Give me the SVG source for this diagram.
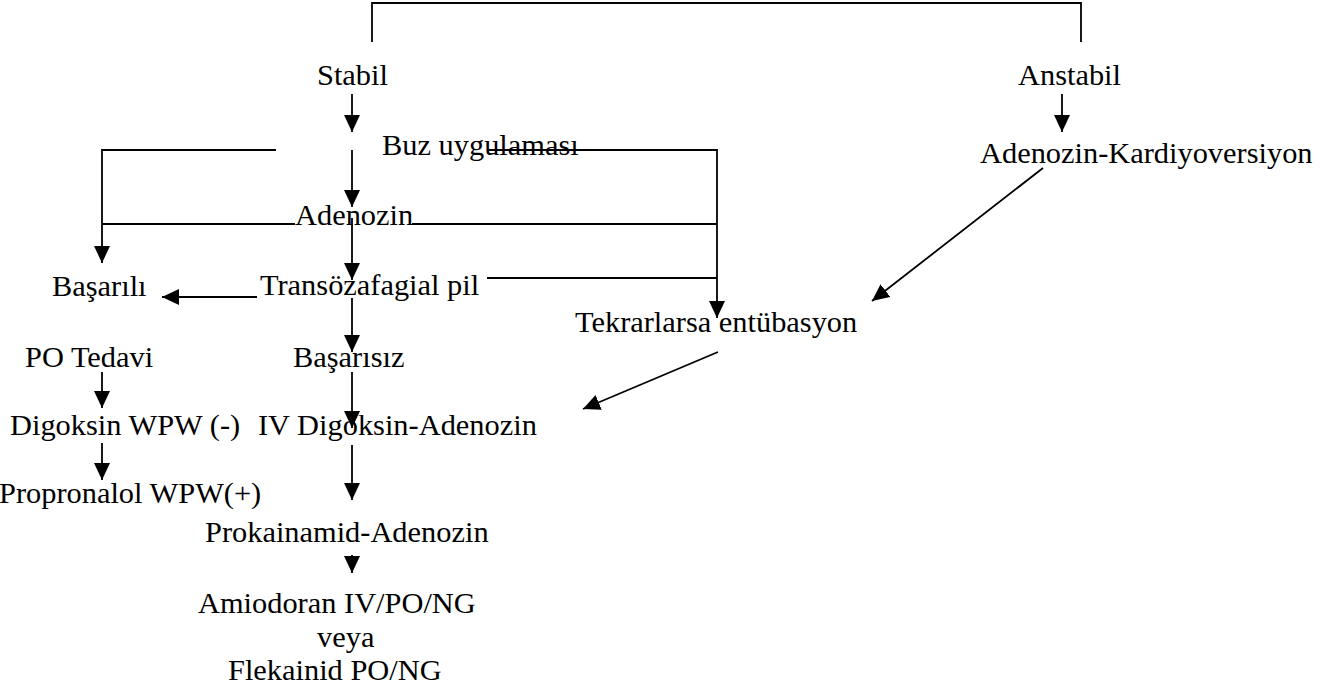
<svg xmlns="http://www.w3.org/2000/svg" width="1325" height="697" viewBox="0 0 1325 697">
<style>
text{font-family:"Liberation Serif","Times New Roman",serif;font-size:30.4px;fill:#000}
.c{fill:none;stroke:#000;stroke-width:1.8}
.a{marker-end:url(#ah)}
</style>
<defs>
<marker id="ah" markerUnits="userSpaceOnUse" markerWidth="17" markerHeight="16" refX="17" refY="8" orient="auto">
<path d="M0,0 L17,8 L0,16 z" fill="#000"/>
</marker>
</defs>
<rect width="1325" height="697" fill="#fff"/>
<g id="connectors">
<polyline class="c" points="372,42 372,3 1081,3 1081,42"/>
<line class="c a" x1="352" y1="94" x2="352" y2="132"/>
<line class="c a" x1="1062" y1="94" x2="1062" y2="132"/>
<polyline class="c a" points="276,150 102,150 102,263"/>
<line class="c a" x1="352" y1="150" x2="352" y2="207"/>
<polyline class="c a" points="488,150 717,150 717,318"/>
<line class="c" x1="102" y1="224" x2="295" y2="224"/>
<line class="c" x1="412" y1="224" x2="717" y2="224"/>
<line class="c a" x1="352" y1="218" x2="352" y2="280"/>
<line class="c" x1="487" y1="278" x2="717" y2="278"/>
<line class="c a" x1="257" y1="297" x2="162" y2="297"/>
<line class="c a" x1="352" y1="298" x2="352" y2="352"/>
<line class="c a" x1="1043" y1="168" x2="872" y2="301"/>
<line class="c a" x1="102" y1="372" x2="102" y2="408"/>
<line class="c a" x1="352" y1="372" x2="352" y2="428"/>
<line class="c a" x1="718" y1="352" x2="583" y2="409"/>
<line class="c a" x1="102" y1="443" x2="102" y2="480"/>
<line class="c a" x1="352" y1="445" x2="352" y2="500"/>
<line class="c a" x1="352" y1="555" x2="352" y2="573"/>
</g>
<g id="stabil"><text x="317" y="85">Stabil</text></g>
<g id="anstabil"><text x="1018" y="85">Anstabil</text></g>
<g id="buz"><text x="382" y="155">Buz uygulaması</text></g>
<g id="adenozin-kardiyoversiyon"><text x="980" y="163">Adenozin-Kardiyoversiyon</text></g>
<g id="adenozin"><text x="295" y="225">Adenozin</text></g>
<g id="basarili"><text x="52" y="296">Başarılı</text></g>
<g id="transozafagial"><text x="260" y="295">Transözafagial pil</text></g>
<g id="tekrarlarsa"><text x="575" y="332">Tekrarlarsa entübasyon</text></g>
<g id="po-tedavi"><text x="25" y="367">PO Tedavi</text></g>
<g id="basarisiz"><text x="293" y="367">Başarısız</text></g>
<g id="digoksin"><text x="10" y="435">Digoksin WPW (-)</text></g>
<g id="iv-digoksin"><text x="258" y="435">IV Digoksin-Adenozin</text></g>
<g id="propronalol"><text x="-1" y="503">Propronalol WPW(+)</text></g>
<g id="prokainamid"><text x="205" y="542">Prokainamid-Adenozin</text></g>
<g id="amiodoran">
<text x="198" y="613">Amiodoran IV/PO/NG</text>
<text x="317" y="647">veya</text>
<text x="228" y="680">Flekainid PO/NG</text>
</g>
</svg>
